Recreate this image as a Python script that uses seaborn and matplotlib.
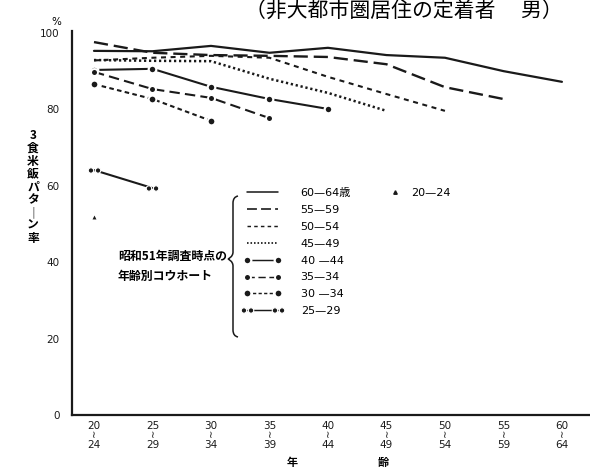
import numpy as np
import pandas as pd
import matplotlib
matplotlib.use("Agg")
import matplotlib.pyplot as plt
from matplotlib.lines import Line2D
from matplotlib.path import Path
from matplotlib.patches import PathPatch
import seaborn as sns

# Age groups on the x axis (survey age)
age_groups = ["20\n≀\n24", "25\n≀\n29", "30\n≀\n34", "35\n≀\n39", "40\n≀\n44",
              "45\n≀\n49", "50\n≀\n54", "55\n≀\n59", "60\n≀\n64"]

# Share with the three-rice-meal pattern (%), by cohort (age at the 1976 survey)
c60_64 = [95.3, 95.2, 96.6, 94.8, 96.1, 94.2, 93.5, 90.0, 87.2]
c55_59 = [97.6, 94.8, 94.2, 94.0, 93.7, 91.8, 85.8, 82.7]
c50_54 = [92.8, 93.5, 94.0, 93.5, 88.5, 84.0, 79.6]
c45_49 = [92.9, 92.7, 92.6, 88.0, 84.3, 79.6]
c40_44 = [90.3, 90.6, 85.9, 82.7, 80.1]
c35_39 = [89.8, 85.3, 83.0, 77.7]
c30_34 = [86.6, 82.7, 77.0]
c25_29 = [64.1, 59.4]
c20_24 = [51.8]

cohort_labels = ["60—64歳", "55—59", "50—54", "45—49", "40 —44", "35—34", "30 —34", "25—29"]
single_label = "20—24"

sns.set_theme(style="white")
plt.rcParams["font.family"] = ["DejaVu Sans", "Noto Sans CJK JP"]
plt.rcParams["axes.unicode_minus"] = False
for key in ["text.color", "axes.labelcolor", "xtick.color", "ytick.color",
            "axes.edgecolor"]:
    plt.rcParams[key] = "black"
JP = ["Noto Sans CJK JP", "DejaVu Sans"]

W, H = 590, 469
fig = plt.figure(figsize=(W / 100, H / 100), dpi=100)
ax = fig.add_axes([72 / W, (H - 415) / H, 1 - 72 / W, (415 - 31) / H])

# double-dot marker used for the youngest tracked cohort
two_dots = Path.make_compound_path(Path.circle((-0.55, 0), 0.42),
                                   Path.circle((0.55, 0), 0.42))

styles = [
    dict(linestyle="-", lw=1.6),
    dict(linestyle=(0, (6, 2.5)), lw=1.7),
    dict(linestyle=(0, (2.4, 2.2)), lw=1.5),
    dict(linestyle=(0, (0.9, 1.1)), lw=1.8),
    dict(linestyle="-", lw=1.5, marker="o", ms=5.5, mec="white", mew=1.6, mfc="k"),
    dict(linestyle=(0, (5, 2.5)), lw=1.5, marker="o", ms=5, mec="white", mew=1.4, mfc="k"),
    dict(linestyle=(0, (2.2, 1.6)), lw=1.5, marker="o", ms=5.5, mec="white", mew=1.4, mfc="k"),
    dict(linestyle="-", lw=1.5, marker=two_dots, ms=9, mec="white", mew=0.8, mfc="k"),
]
series = [c60_64, c55_59, c50_54, c45_49, c40_44, c35_39, c30_34, c25_29]

for vals, st in zip(series, styles):
    df = pd.DataFrame({"x": np.arange(len(vals)), "y": vals})
    sns.lineplot(data=df, x="x", y="y", ax=ax, color="k", legend=False, **st)

df1 = pd.DataFrame({"x": np.arange(len(c20_24)), "y": c20_24})
sns.scatterplot(data=df1, x="x", y="y", ax=ax, color="k", marker="^", s=8,
                linewidth=0, legend=False)

ax.set_xlim(-0.376, 8.48)
ax.set_ylim(0, 100.5)
ax.set_xticks(np.arange(len(age_groups)))
ax.set_xticklabels(age_groups, linespacing=0.95)
ax.set_yticks([0, 20, 40, 60, 80, 100])
ax.set_xlabel("")
ax.set_ylabel("")
for s in ["top", "right"]:
    ax.spines[s].set_visible(False)
for s in ["left", "bottom"]:
    ax.spines[s].set_color("k")
    ax.spines[s].set_linewidth(1.6)
ax.tick_params(axis="x", direction="in", length=4, width=1.2, colors="k",
               labelsize=7.5, pad=4)
ax.tick_params(axis="y", direction="out", length=5, width=1.2, colors="k",
               labelsize=7.5, pad=4)
ax.grid(False)

# cohort key
handles = []
for st in styles:
    kw = {k: v for k, v in st.items()}
    lw = kw.pop("lw")
    ls = kw.pop("linestyle")
    handles.append(Line2D([], [], color="k", lw=lw * 0.7, linestyle=ls, **kw))
leg = ax.legend(handles, cohort_labels, loc="upper left",
                bbox_to_anchor=(244 / W, 1 - 188 / H), bbox_transform=fig.transFigure,
                frameon=False, fontsize=8, handlelength=3.4, handletextpad=1.7,
                labelspacing=0.62, numpoints=2, borderpad=0, borderaxespad=0)
ax.add_artist(leg)
h2 = Line2D([], [], color="k", linestyle="none", marker="^", ms=2.5)
ax.legend([h2], [single_label], loc="upper left",
          bbox_to_anchor=(389 / W, 1 - 188 / H), bbox_transform=fig.transFigure,
          frameon=False, fontsize=8, handlelength=1.0, handletextpad=1.0,
          numpoints=1, borderpad=0, borderaxespad=0)

# curly brace grouping the cohort key
def fx(x):
    return x / W

def fy(y):
    return 1 - y / H

pts = [(238, 196), (233, 197), (233, 203),
       (233, 252),
       (233, 257), (228, 259), (228, 259),
       (228, 259), (233, 261), (233, 266),
       (233, 330),
       (233, 336), (238, 337)]
codes = [Path.MOVETO, Path.CURVE3, Path.CURVE3,
         Path.LINETO,
         Path.CURVE4, Path.CURVE4, Path.CURVE4,
         Path.CURVE4, Path.CURVE4, Path.CURVE4,
         Path.LINETO,
         Path.CURVE3, Path.CURVE3]
brace = Path([(fx(x), fy(y)) for x, y in pts], codes)
fig.patches.append(PathPatch(brace, transform=fig.transFigure, fill=False,
                             lw=1.1, color="k"))

fig.text(fx(118), fy(256), "昭和51年調査時点の", family=JP, fontsize=8.6,
         ha="left", va="center", fontweight="bold")
fig.text(fx(118), fy(276), "年齢別コウホート", family=JP, fontsize=8.6,
         ha="left", va="center", fontweight="bold")

# axis titles
fig.text(fx(33), fy(187), "3\n食\n米\n飯\nパ\nタ\n｜\nン\n率", family=JP,
         fontsize=8.5, ha="center", va="center", linespacing=0.98, fontweight="bold")
fig.text(fx(56), fy(22), "%", fontsize=7.5, ha="center", va="center")
fig.text(fx(292), fy(462), "年", family=JP, fontsize=8, ha="center", va="center",
         fontweight="bold")
fig.text(fx(383), fy(462), "齢", family=JP, fontsize=8, ha="center", va="center",
         fontweight="bold")

# heading
fig.text(fx(245), fy(12), "（非大都市圏居住の定着者　 男）", family=JP,
         fontsize=15, ha="left", va="center")

fig.savefig("out.png", dpi=100)
